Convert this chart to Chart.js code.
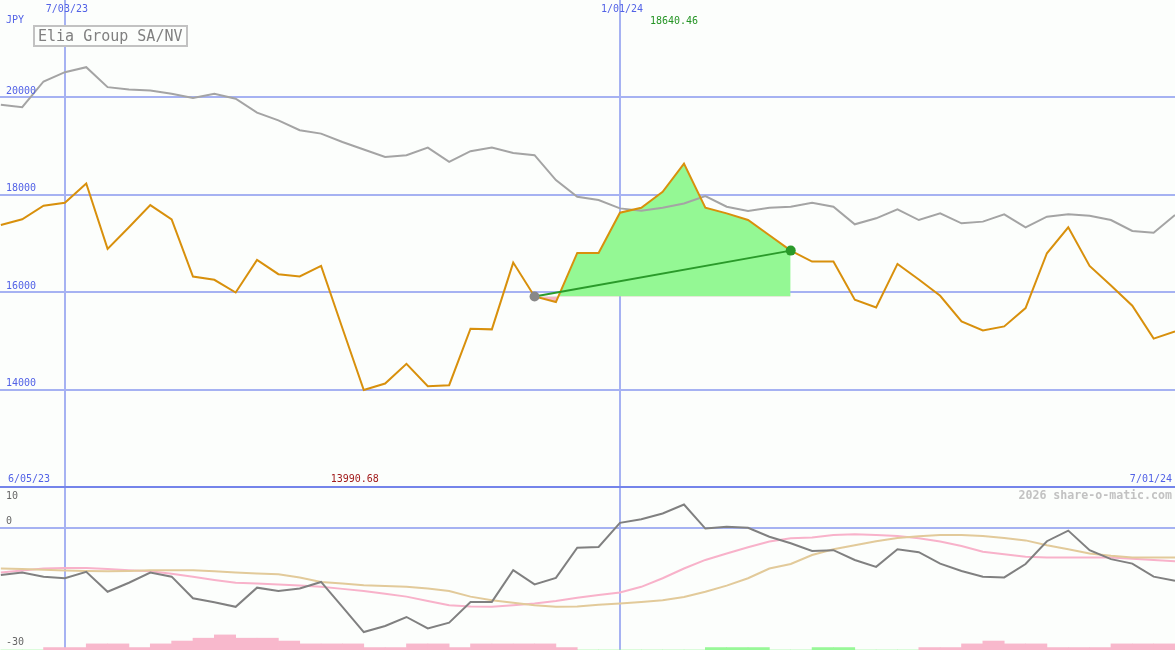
<!DOCTYPE html>
<html><head><meta charset="utf-8">
<script src="https://cdn.jsdelivr.net/npm/chart.js@4.4.1/dist/chart.umd.min.js"></script>
<style>
html,body{margin:0;padding:0;background:#fcfefc;}
#wrap{position:relative;width:1175px;height:650px;overflow:hidden;background:#fcfefc;}
canvas{position:absolute;left:0;}
#main{top:0;}
#osc{top:487px;}
</style></head><body>
<div id="wrap"><canvas id="main" width="1175" height="487"></canvas><canvas id="osc" width="1175" height="163"></canvas></div>
<script>
const weeks = ['6/12/23','6/19/23','6/26/23','7/03/23','7/10/23','7/17/23','7/24/23','7/31/23','8/07/23','8/14/23','8/21/23','8/28/23','9/04/23','9/11/23','9/18/23','9/25/23','10/02/23','10/09/23','10/16/23','10/23/23','10/30/23','11/06/23','11/13/23','11/20/23','11/27/23','12/04/23','12/11/23','12/18/23','12/25/23','1/01/24','1/08/24','1/15/24','1/22/24','1/29/24','2/05/24','2/12/24','2/19/24','2/26/24','3/04/24','3/11/24','3/18/24','3/25/24','4/01/24','4/08/24','4/15/24','4/22/24','4/29/24','5/06/24','5/13/24','5/20/24','5/27/24','6/03/24','6/10/24','6/17/24','6/24/24','7/01/24'];
const price = [17380,17497,17775,17837,18233,16889,17333,17789,17497,16322,16254,15994,16663,16370,16322,16540,15260,13990.68,14125,14528,14070,14090,15251,15237,16608,15912,15797,16807,16807,17632,17734,18062,18640.46,17734,17619,17482,17169,16854,16629,16629,15845,15687,16581,16260,15926,15400,15216,15298,15673,16800,17333,16540,16138,15722,15046,15196];
const compare = [19850,19800,20327,20518,20620,20211,20164,20143,20075,19986,20075,19973,19687,19529,19325,19256,19085,18929,18778,18813,18970,18676,18895,18970,18860,18813,18301,17960,17892,17721,17673,17734,17823,17974,17755,17666,17734,17755,17837,17755,17394,17517,17701,17482,17619,17414,17449,17599,17333,17550,17599,17570,17482,17257,17222,17585];
const momentum = [-11.6,-11.0,-12.0,-12.4,-10.8,-15.7,-13.5,-11.0,-12.0,-17.3,-18.3,-19.4,-14.7,-15.5,-14.9,-13.3,-19.4,-25.6,-24.1,-21.9,-24.7,-23.3,-18.2,-18.2,-10.4,-13.9,-12.3,-4.9,-4.7,1.2,2.1,3.5,5.7,-0.2,0.25,0,-2.2,-3.8,-5.7,-5.5,-7.9,-9.6,-5.3,-6.0,-8.8,-10.6,-12.0,-12.2,-8.9,-3.3,-0.7,-5.5,-7.7,-8.8,-12.0,-13.0];
const signalFast = [-11.0,-10.5,-10.0,-9.9,-9.9,-10.1,-10.4,-10.7,-11.3,-12.0,-12.8,-13.5,-13.7,-13.9,-14.2,-14.5,-15.0,-15.5,-16.2,-16.9,-18.0,-19.0,-19.3,-19.4,-19.0,-18.6,-18.0,-17.2,-16.5,-15.9,-14.5,-12.4,-10.0,-7.9,-6.3,-4.8,-3.4,-2.6,-2.4,-1.8,-1.6,-1.8,-2.0,-2.6,-3.4,-4.5,-5.9,-6.5,-7.1,-7.3,-7.3,-7.3,-7.3,-7.6,-7.9,-8.2];
const signalSlow = [-10.0,-10.1,-10.3,-10.5,-10.6,-10.7,-10.6,-10.4,-10.4,-10.4,-10.7,-11.0,-11.2,-11.4,-12.2,-13.3,-13.7,-14.1,-14.3,-14.5,-14.9,-15.5,-16.9,-17.8,-18.4,-19.0,-19.4,-19.3,-18.9,-18.6,-18.2,-17.8,-17.0,-15.7,-14.2,-12.4,-10.0,-8.9,-6.7,-5.3,-4.3,-3.3,-2.5,-2.1,-1.8,-1.8,-2.0,-2.5,-3.1,-4.3,-5.3,-6.3,-6.9,-7.3,-7.3,-7.3];
const histogram = [0,0,-0.6,-0.6,-1.5,-1.5,-0.6,-1.5,-2.2,-2.9,-3.7,-2.9,-2.9,-2.2,-1.5,-1.5,-1.5,-0.6,-0.6,-1.5,-1.5,-0.6,-1.5,-1.5,-1.5,-1.5,-0.6,0,0,0,0,0,0,0.6,0.6,0.6,0,0,0.6,0.6,0,0,0,-0.6,-0.6,-1.5,-2.2,-1.5,-1.5,-0.6,-0.6,-0.6,-1.5,-1.5,-1.5,0];
const priceTicks = [20000,18000,16000,14000];
const oscTicks = [10,0,-30];
const markedWeeks = ['7/03/23','1/01/24'];
const rangeLabels = ['6/05/23','7/01/24'];
const currency = 'JPY';
const seriesName = 'Elia Group SA/NV';
const credit = '2026 share-o-matic.com';
const trendFrom = 25, trendTo = 37;

const FONT = '"DejaVu Sans Mono", "Liberation Mono", monospace';
const GRID = '#a6b2f2';
const BLUE = '#5262e6';
const pts = arr => arr.map((v, i) => ({x: i, y: v}));
const markIdx = markedWeeks.map(w => weeks.indexOf(w));
const xScaleOpt = () => ({type: 'linear', min: -0.04, max: weeks.length - 1, display: false, offset: false, bounds: 'ticks'});
const layoutOpt = {autoPadding: false, padding: 0};

const mainGrid = {
  id: 'mainGrid',
  beforeDatasetsDraw(chart) {
    const {ctx, scales: {x, y}, width, height} = chart;
    ctx.save();
    ctx.strokeStyle = GRID; ctx.lineWidth = 2;
    priceTicks.forEach(t => {
      const py = Math.round(y.getPixelForValue(t));
      ctx.beginPath(); ctx.moveTo(0, py); ctx.lineTo(width, py); ctx.stroke();
    });
    markIdx.forEach(i => {
      const px = Math.round(x.getPixelForValue(i));
      ctx.beginPath(); ctx.moveTo(px, 0); ctx.lineTo(px, height); ctx.stroke();
    });
    ctx.fillStyle = '#7484ea';
    ctx.fillRect(0, height - 1, width, 1);
    ctx.restore();
  },
  afterDatasetsDraw(chart) {
    const {ctx, scales: {x, y}, width} = chart;
    ctx.save();
    ctx.font = '10px ' + FONT;
    ctx.textBaseline = 'middle';
    ctx.fillStyle = BLUE;
    ctx.textAlign = 'left';
    ctx.fillText(currency, 6, 20);
    priceTicks.forEach(t => ctx.fillText(String(t), 6, y.getPixelForValue(t) - 6));
    ctx.fillText(rangeLabels[0], 8, 479);
    ctx.textAlign = 'right';
    ctx.fillText(rangeLabels[1], width - 3, 479);
    ctx.textAlign = 'center';
    markIdx.forEach(i => ctx.fillText(weeks[i], x.getPixelForValue(i) + 2, 9));
    const hi = Math.max(...price), lo = Math.min(...price);
    const hiI = price.indexOf(hi), loI = price.indexOf(lo);
    ctx.fillStyle = '#249424';
    ctx.fillText(hi.toFixed(2), x.getPixelForValue(hiI) - 10, 21);
    ctx.fillStyle = '#a21c1c';
    ctx.fillText(lo.toFixed(2), x.getPixelForValue(loI) - 9, 479);
    ctx.fillStyle = '#fcfefc';
    ctx.fillRect(34, 26, 153, 20);
    ctx.strokeStyle = '#c2c2c2'; ctx.lineWidth = 2;
    ctx.strokeRect(34, 26, 153, 20);
    ctx.fillStyle = '#808080';
    ctx.textAlign = 'left';
    ctx.font = '15px ' + FONT;
    ctx.fillText(seriesName, 38, 37);
    ctx.restore();
  }
};

new Chart(document.getElementById('main'), {
  type: 'line',
  data: {datasets: [
    {data: [{x: trendFrom, y: price[trendFrom]}, {x: trendTo, y: price[trendTo]}], borderColor: '#2a9a2a', borderWidth: 2,
     pointRadius: 5, pointBackgroundColor: ['#888888', '#2a9a2a'], pointBorderColor: ['#888888', '#2a9a2a'], pointBorderWidth: 0, order: 0},
    {data: pts(price), borderColor: '#d8900c', borderWidth: 2, pointRadius: 0, order: 1},
    {data: pts(compare), borderColor: '#a4a4a4', borderWidth: 2, pointRadius: 0, order: 2},
    {data: price.map((v, i) => ({x: i, y: (i >= trendFrom && i <= trendTo) ? v : null})), borderWidth: 0, borderColor: 'rgba(0,0,0,0)',
     pointRadius: 0, spanGaps: false, fill: {target: {value: price[trendFrom]}, above: '#94f894', below: '#f8b4c4'}, order: 3}
  ]},
  options: {
    responsive: false, animation: false, events: [], layout: layoutOpt,
    plugins: {legend: {display: false}, tooltip: {enabled: false}},
    scales: {x: xScaleOpt(), y: {min: 12000, max: 22000, display: false}}
  },
  plugins: [mainGrid]
});

const oscGrid = {
  id: 'oscGrid',
  beforeDatasetsDraw(chart) {
    const {ctx, scales: {x, y}, width, height} = chart;
    ctx.save();
    ctx.strokeStyle = GRID; ctx.lineWidth = 2;
    const py = Math.round(y.getPixelForValue(0));
    ctx.beginPath(); ctx.moveTo(0, py); ctx.lineTo(width, py); ctx.stroke();
    markIdx.forEach(i => {
      const px = Math.round(x.getPixelForValue(i));
      ctx.beginPath(); ctx.moveTo(px, 0); ctx.lineTo(px, height); ctx.stroke();
    });
    ctx.fillStyle = '#7484ea';
    ctx.fillRect(0, 0, width, 1);
    ctx.restore();
  },
  afterDatasetsDraw(chart) {
    const {ctx, width} = chart;
    ctx.save();
    ctx.textBaseline = 'middle';
    ctx.font = '10px ' + FONT;
    ctx.fillStyle = '#666666';
    ctx.textAlign = 'left';
    ctx.fillText(String(oscTicks[0]), 6, 9);
    ctx.fillText(String(oscTicks[1]), 6, 34);
    ctx.fillText(String(oscTicks[2]), 6, 155);
    ctx.font = 'bold 11.6px ' + FONT;
    ctx.fillStyle = '#c2c2c2';
    ctx.textAlign = 'right';
    ctx.fillText(credit, width - 3, 9);
    ctx.restore();
  }
};

const lowBase = oscTicks[2];
new Chart(document.getElementById('osc'), {
  type: 'line',
  data: {datasets: [
    {data: pts(momentum), borderColor: '#808080', borderWidth: 2, pointRadius: 0, order: 0},
    {data: pts(signalSlow), borderColor: '#e2ca9a', borderWidth: 2, pointRadius: 0, order: 1},
    {data: pts(signalFast), borderColor: '#f8b2ca', borderWidth: 2, pointRadius: 0, order: 2},
    {type: 'bar', data: histogram.map((h, i) => ({x: i + 0.5, y: [lowBase, lowBase + Math.abs(h)]})),
     backgroundColor: histogram.map(h => h >= 0 ? '#98f898' : '#f8b8cc'), borderWidth: 0,
     barPercentage: 1, categoryPercentage: 1, order: 3}
  ]},
  options: {
    responsive: false, animation: false, events: [], layout: layoutOpt,
    plugins: {legend: {display: false}, tooltip: {enabled: false}},
    scales: {x: xScaleOpt(), y: {min: lowBase, max: oscTicks[0], display: false}}
  },
  plugins: [oscGrid]
});
</script>
</body></html>
